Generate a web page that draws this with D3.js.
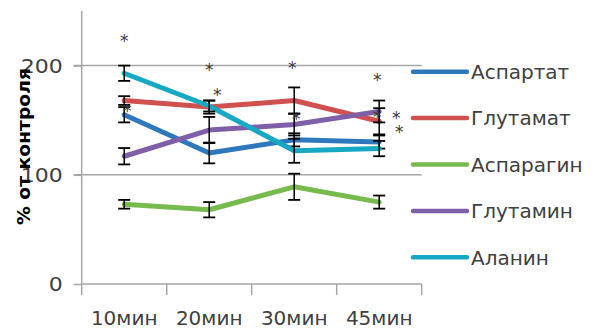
<!DOCTYPE html>
<html>
<head>
<meta charset="utf-8">
<script src="https://cdn.jsdelivr.net/npm/d3@7"></script>
<style>
  html, body { margin: 0; padding: 0; background: #fff; }
  svg { display: block; }
</style>
</head>
<body>
<svg id="chart" width="595" height="332"></svg>
<script>
// ---- data ----
const categories = ["10мин", "20мин", "30мин", "45мин"];
const seriesNames = ["Аспартат", "Глутамат", "Аспарагин", "Глутамин", "Аланин"];
const aspartat  = [155, 120, 132, 130];
const glutamat  = [168, 162, 168, 149];
const asparagin = [73, 68, 89, 75];
const glutamin  = [117, 141, 146, 158];
const alanin    = [193, 163, 122, 124];
const aspartatErr  = [7, 9.5, 6, 6];
const glutamatErr  = [4, 6, 12, 12];
const asparaginErr = [4, 7, 12, 6];
const glutaminErr  = [7.5, 12, 10, 10];
const alaninErr    = [7, 5, 11, 7];
const yTicks = [0, 100, 200];
// significance markers: category index, value, horizontal nudge
const sigCat   = [0, 0, 1, 1, 2, 2, 3, 3, 3, 3];
const sigValue = [226, 162, 200, 177, 201.5, 155, 190.5, 157, 155.5, 143];
const sigDx    = [0, 3, 0, 8, -2, 2, -2, -2, 17, 20];

const colors = ["#2e78bd", "#d05050", "#77bb4f", "#7f5fa8", "#17a9c3"];
const values = [aspartat, glutamat, asparagin, glutamin, alanin];
const errors = [aspartatErr, glutamatErr, asparaginErr, glutaminErr, alaninErr];

const series = seriesNames.map((name, i) => ({
  name, color: colors[i],
  points: categories.map((c, j) => ({ cat: c, v: values[i][j], e: errors[i][j] }))
}));

// ---- layout ----
const svg = d3.select("#chart");
const plotL = 81.7, plotR = 421.7, plotT = 11, plotB = 284;
const font = "'DejaVu Sans', sans-serif";
const textColor = "#404040";
const axisColor = "#a6a6a6";

const x = d3.scaleBand().domain(categories).range([plotL, plotR]);
const y = d3.scaleLinear().domain([0, 250]).range([plotB, plotT]);
const cx = c => x(c) + x.bandwidth() / 2;

// gridlines (major)
svg.append("g").selectAll("line").data(yTicks.filter(t => t > 0)).join("line")
  .attr("x1", plotL - 8).attr("x2", plotR)
  .attr("y1", d => y(d)).attr("y2", d => y(d))
  .attr("stroke", axisColor).attr("stroke-width", 1.5);

// y axis
const yAxis = d3.axisLeft(y).tickValues(yTicks).tickSize(8).tickPadding(11);
const gy = svg.append("g").attr("transform", `translate(${plotL},0)`).call(yAxis);
gy.select(".domain").attr("stroke", axisColor).attr("stroke-width", 1.5)
  .attr("d", `M0,${plotT}V${plotB}`);
gy.selectAll(".tick line").attr("stroke", axisColor).attr("stroke-width", 1.5);
gy.selectAll(".tick text").attr("fill", textColor)
  .style("font-family", font).style("font-size", "20px")
  .attr("textLength", d => String(d).length * 14)
  .attr("lengthAdjust", "spacingAndGlyphs");

// x axis
const xAxis = d3.axisBottom(x).tickSize(0).tickPadding(41);
const gx = svg.append("g").attr("transform", `translate(0,${plotB})`).call(xAxis);
gx.select(".domain").attr("stroke", axisColor).attr("stroke-width", 1.5)
  .attr("d", `M${plotL},0H${plotR}`);
gx.selectAll(".tick text").attr("fill", textColor)
  .style("font-family", font).style("font-size", "20px")
  .attr("dy", "0");
// category boundary tick marks
const bounds = categories.map(c => x(c)).concat([plotR]);
gx.append("g").selectAll("line").data(bounds).join("line")
  .attr("x1", d => d).attr("x2", d => d).attr("y1", 0).attr("y2", 11)
  .attr("stroke", axisColor).attr("stroke-width", 1.5);

// y axis title
svg.append("text")
  .attr("transform", `translate(30,146.5) rotate(-90)`)
  .attr("text-anchor", "middle")
  .attr("textLength", 157).attr("lengthAdjust", "spacingAndGlyphs")
  .style("font-family", font).style("font-size", "17px").style("font-weight", "bold")
  .attr("fill", "#000")
  .text("% от контроля");

// series lines + error bars
const line = d3.line().x(d => cx(d.cat)).y(d => y(d.v));
const capW = 6;
series.forEach(s => {
  const g = svg.append("g");
  g.append("path").datum(s.points).attr("d", line)
    .attr("fill", "none").attr("stroke", s.color).attr("stroke-width", 5)
    .attr("stroke-linejoin", "round").attr("stroke-linecap", "round");
  const eb = g.selectAll("g.eb").data(s.points).join("g").attr("class", "eb");
  eb.append("line")
    .attr("x1", d => cx(d.cat)).attr("x2", d => cx(d.cat))
    .attr("y1", d => y(d.v + d.e)).attr("y2", d => y(d.v - d.e))
    .attr("stroke", "#000").attr("stroke-width", 1.5);
  eb.append("line")
    .attr("x1", d => cx(d.cat) - capW).attr("x2", d => cx(d.cat) + capW)
    .attr("y1", d => y(d.v + d.e)).attr("y2", d => y(d.v + d.e))
    .attr("stroke", "#000").attr("stroke-width", 1.8);
  eb.append("line")
    .attr("x1", d => cx(d.cat) - capW).attr("x2", d => cx(d.cat) + capW)
    .attr("y1", d => y(d.v - d.e)).attr("y2", d => y(d.v - d.e))
    .attr("stroke", "#000").attr("stroke-width", 1.8);
});

// significance asterisks
svg.append("g").selectAll("text").data(sigValue.map((v, i) => ({ v, c: categories[sigCat[i]], dx: sigDx[i] })))
  .join("text")
  .attr("x", d => cx(d.c) + d.dx)
  .attr("y", d => y(d.v) + 10.2)
  .attr("text-anchor", "middle")
  .style("font-family", font).style("font-size", "17px")
  .attr("fill", "#3a3a3a")
  .text("*");

// legend
const legY0 = 71.7, legStep = 46.4;
const leg = svg.append("g").selectAll("g").data(series).join("g")
  .attr("transform", (d, i) => `translate(0,${legY0 + i * legStep})`);
leg.append("line").attr("x1", 413).attr("x2", 467).attr("y1", 0).attr("y2", 0)
  .attr("stroke", d => d.color).attr("stroke-width", 4.5).attr("stroke-linecap", "round");
leg.append("text").attr("x", 471).attr("y", 0).attr("dy", "0.36em")
  .style("font-family", font).style("font-size", "20px")
  .attr("fill", textColor)
  .text(d => d.name);
</script>
</body>
</html>
